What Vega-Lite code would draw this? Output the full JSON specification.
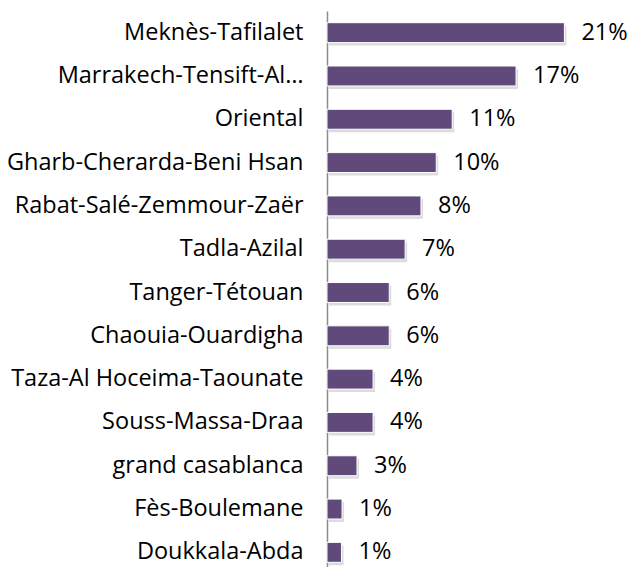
{
  "$schema": "https://vega.github.io/schema/vega-lite/v6.json",
  "autosize": "none",
  "padding": {"left": 327, "top": 11, "right": 0, "bottom": 0},
  "width": 300,
  "height": 563,
  "background": "white",
  "config": {
    "view": {"stroke": null},
    "font": "Open Sans"
  },
  "data": {
    "values": [
      {"region": "Meknès-Tafilalet", "share": 0.2097},
      {"region": "Marrakech-Tensift-Al…", "share": 0.167},
      {"region": "Oriental", "share": 0.1106},
      {"region": "Gharb-Cherarda-Beni Hsan", "share": 0.0965},
      {"region": "Rabat-Salé-Zemmour-Zaër", "share": 0.083},
      {"region": "Tadla-Azilal", "share": 0.069},
      {"region": "Tanger-Tétouan", "share": 0.055},
      {"region": "Chaouia-Ouardigha", "share": 0.055},
      {"region": "Taza-Al Hoceima-Taounate", "share": 0.0407},
      {"region": "Souss-Massa-Draa", "share": 0.0407},
      {"region": "grand casablanca", "share": 0.0265},
      {"region": "Fès-Boulemane", "share": 0.0133},
      {"region": "Doukkala-Abda", "share": 0.0128}
    ]
  },
  "encoding": {
    "y": {
      "field": "region",
      "type": "nominal",
      "sort": null,
      "scale": {"paddingInner": 0.54, "paddingOuter": 0.27},
      "axis": {
        "title": null,
        "ticks": false,
        "domainColor": "#8c8c8c",
        "domainWidth": 1.5,
        "labelFont": "Open Sans",
        "labelFontSize": 23.5,
        "labelColor": "#000000",
        "labelPadding": 24,
        "labelLimit": 400
      }
    },
    "x": {
      "field": "share",
      "type": "quantitative",
      "scale": {"domain": [0, 0.265], "nice": false},
      "axis": null
    }
  },
  "layer": [
    {
      "mark": {"type": "bar", "color": "#9a9a9a", "opacity": 0.35, "xOffset": 2, "yOffset": 3}
    },
    {
      "mark": {"type": "bar", "color": "#604a7b", "stroke": "#ffffff", "strokeWidth": 1}
    },
    {
      "mark": {"type": "text", "align": "left", "baseline": "middle", "dx": 17, "font": "Open Sans", "fontSize": 23.5, "color": "#000000"},
      "encoding": {
        "text": {"field": "share", "type": "quantitative", "format": ".0%"}
      }
    }
  ]
}
